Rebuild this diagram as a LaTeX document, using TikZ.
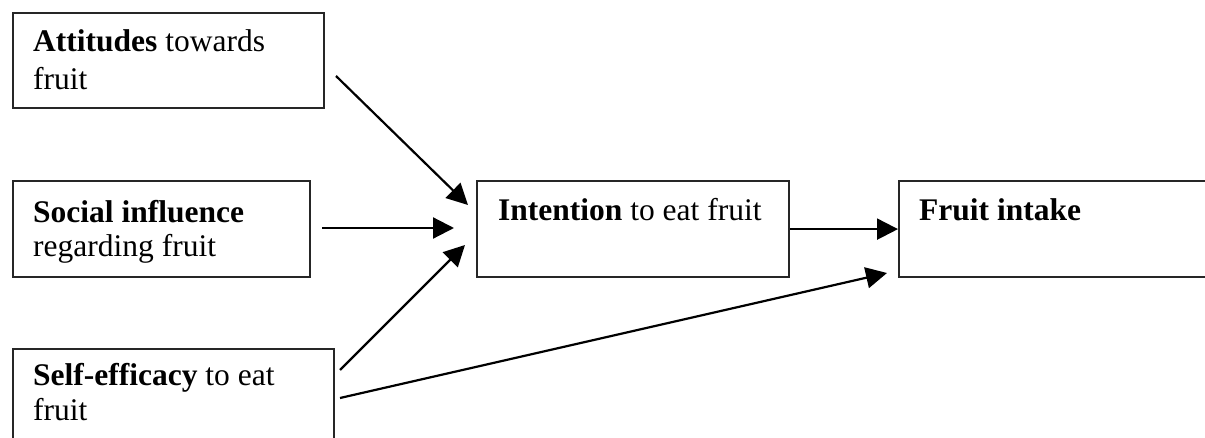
\documentclass[tikz,border=0pt]{standalone}
\usepackage{fontspec}
\setmainfont{Liberation Serif}
\usetikzlibrary{arrows.meta,calc}
\begin{document}
\begin{tikzpicture}[x=1pt,y=-1pt,
  box/.style={draw=black!85,line width=2.2pt,rectangle,inner sep=0pt,anchor=north west},
  txt/.style={inner sep=0pt,anchor=base west,font=\fontsize{31.5}{36}\selectfont},
  conn/.style={line width=2.2pt,-{Triangle[length=21pt,width=21pt]}}]
\useasboundingbox (0,0) rectangle (1205,438);
% boxes
\node[box,minimum width=311pt,minimum height=95pt] (att) at (12,12) {};
\node[box,minimum width=297pt,minimum height=96pt] (soc) at (12,180) {};
\node[box,minimum width=321pt,minimum height=100pt] (self) at (12,348) {};
\node[box,minimum width=312pt,minimum height=96pt] (int) at (476,180) {};
\node[box,minimum width=320pt,minimum height=96pt] (fru) at (898,180) {};
% texts
\node[txt] (attA) at (33,52) {\textbf{Attitudes} towards};
\node[txt] (attB) at (33,90) {fruit};
\node[txt] (socA) at (33,223) {\textbf{Social influence}};
\node[txt] (socB) at (33,257) {regarding fruit};
\node[txt] (selfA) at (33,385) {\textbf{Self-efficacy} to eat};
\node[txt] (selfB) at (33,420) {fruit};
\node[txt] (intA) at (498,221) {\textbf{Intention} to eat fruit};
\node[txt] (fruA) at (919,221) {\textbf{Fruit intake}};
% connector end points
\coordinate (a1) at (336,76);
\coordinate (a2) at (468,205);
\coordinate (s1) at (322,228);
\coordinate (s2) at (454,228);
\coordinate (e1) at (340,370);
\coordinate (e2) at (465,245);
\coordinate (f1) at (340,398);
\coordinate (f2) at (887,273);
\draw[conn] (a1) -- (a2);
\draw[conn] (s1) -- (s2);
\draw[conn] (e1) -- (e2);
\draw[conn] (f1) -- (f2);
\draw[conn] (int.east) -- (fru.west |- int.east);
\end{tikzpicture}
\end{document}
